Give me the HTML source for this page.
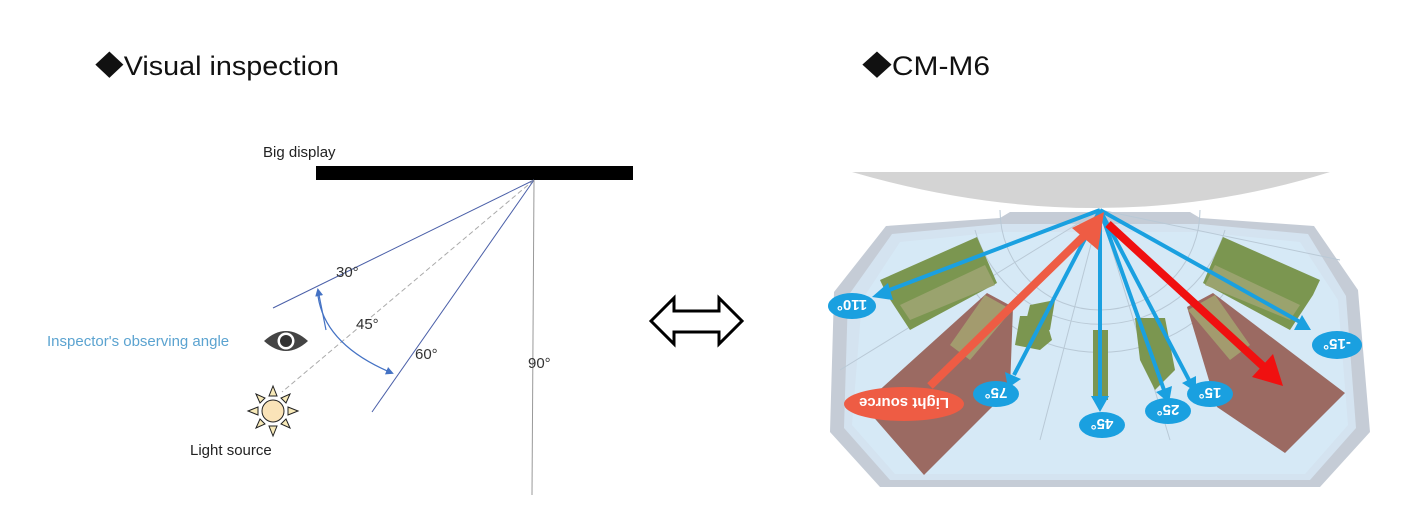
<!DOCTYPE html>
<html><head><meta charset="utf-8"><style>
html,body{margin:0;padding:0;background:#fff;}
svg{display:block;}
text{font-family:"Liberation Sans","Noto Sans CJK JP",sans-serif;}
</style></head><body>
<svg width="1416" height="522" viewBox="0 0 1416 522" xmlns="http://www.w3.org/2000/svg">
<defs>
<marker id="ab" markerWidth="8" markerHeight="8" refX="6" refY="4" orient="auto" markerUnits="userSpaceOnUse"><path d="M0,0 L8,4 L0,8 z" fill="#4472c4"/></marker>
</defs>
<!-- Titles -->
<text x="95" y="75" font-size="27" fill="#111" textLength="244" lengthAdjust="spacingAndGlyphs">◆Visual inspection</text>
<text x="862" y="75" font-size="27" fill="#111" textLength="128" lengthAdjust="spacingAndGlyphs">◆CM-M6</text>

<!-- Left diagram -->
<text x="263" y="157" font-size="15" fill="#222">Big display</text>
<rect x="316" y="166" width="317" height="14" fill="#000"/>
<line x1="534" y1="180" x2="273" y2="308" stroke="#4a5fa8" stroke-width="1"/>
<line x1="534" y1="180" x2="282" y2="392" stroke="#aaa" stroke-width="1" stroke-dasharray="5,3"/>
<line x1="534" y1="180" x2="372" y2="412" stroke="#4a5fa8" stroke-width="1"/>
<line x1="534" y1="180" x2="532" y2="495" stroke="#999" stroke-width="1"/>
<path d="M318,296 Q325,345 392,373" fill="none" stroke="#4472c4" stroke-width="1.2" marker-end="url(#ab)"/>
<path d="M326,330 Q322,310 318,290" fill="none" stroke="#4472c4" stroke-width="1.2" marker-end="url(#ab)"/>
<text x="336" y="277" font-size="15" fill="#333">30°</text>
<text x="356" y="329" font-size="15" fill="#333">45°</text>
<text x="415" y="359" font-size="15" fill="#333">60°</text>
<text x="528" y="368" font-size="15" fill="#333">90°</text>
<text x="47" y="346" font-size="15" fill="#5ba3d0">Inspector's observing angle</text>
<!-- eye -->
<path d="M264,341 Q286,321 308,341 Q286,361 264,341 z" fill="#444"/>
<circle cx="286" cy="341" r="8.5" fill="#fff"/>
<circle cx="286" cy="341" r="6" fill="#333"/>
<!-- sun -->
<g stroke="#222" stroke-width="1" fill="#f7e9b8">
<polygon points="273,386 269,396 277,396"/>
<polygon points="273,436 269,426 277,426"/>
<polygon points="248,411 258,407 258,415"/>
<polygon points="298,411 288,407 288,415"/>
<polygon points="256,394 260,403 265,398"/>
<polygon points="290,394 286,403 281,398"/>
<polygon points="256,428 260,419 265,424"/>
<polygon points="290,428 286,419 281,424"/>
<circle cx="273" cy="411" r="11" fill="#fae3b8"/>
</g>
<text x="190" y="455" font-size="15" fill="#222">Light source</text>

<!-- double arrow -->
<path d="M651,321 L674,298 L674,311 L719,311 L719,298 L742,321 L719,344 L719,332 L674,332 L674,344 z" fill="#fff" stroke="#000" stroke-width="3" stroke-linejoin="miter"/>

<!-- Right diagram -->
<path d="M852,172 L1330,172 Q1100,244 852,172 z" fill="#d4d4d4"/>
<path d="M886,226 L1000,218 L1010,212 L1190,212 L1200,218 L1314,226 L1358,290 L1370,432 L1320,487 L880,487 L830,432 L834,292 z" fill="#c5ccd6"/>
<path d="M892,234 L1000,224 L1200,224 L1308,234 L1346,296 L1356,428 L1310,480 L890,480 L844,428 L848,296 z" fill="#d4e3f0"/>
<path d="M900,242 L1000,232 L1200,232 L1300,242 L1338,300 L1348,425 L1305,474 L895,474 L852,425 L862,300 z" fill="#d6e9f6"/>
<g fill="none" stroke="#b9c9d6" stroke-width="1">
<path d="M1000,210 A100,100 0 0 0 1200,210"/>
<path d="M975,230 A130,130 0 0 0 1225,230"/>
<path d="M955,260 A160,160 0 0 0 1245,260"/>
<line x1="1100" y1="210" x2="840" y2="370"/>
<line x1="1100" y1="210" x2="1040" y2="440"/>
<line x1="1100" y1="210" x2="1170" y2="440"/>
<line x1="1100" y1="210" x2="1340" y2="260"/>
</g>
<!-- brown blocks -->
<polygon points="1187,307 1213,293 1345,393 1285,453 1217,407" fill="#9b6a62"/>
<polygon points="1013,307 987,293 863,405 924,475 1010,389" fill="#9b6a62"/>
<polygon points="1188,310 1215,295 1250,345 1230,360" fill="#a39b6e"/>
<polygon points="1012,310 985,295 950,345 970,360" fill="#a39b6e"/>
<!-- green blocks -->
<polygon points="1223,237 1320,280 1313,295 1290,330 1203,283" fill="#7b9650"/>
<polygon points="1215,265 1300,305 1290,320 1205,285" fill="#9aa36e"/>
<polygon points="977,237 880,280 887,295 910,330 997,283" fill="#7b9650"/>
<polygon points="985,265 900,305 910,320 995,285" fill="#9aa36e"/>
<polygon points="1020,316 1045,316 1052,340 1040,350 1015,345" fill="#7b9650"/>
<polygon points="1030,305 1055,300 1050,330 1025,325" fill="#7b9650"/>
<polygon points="1093,330 1108,330 1108,400 1093,400" fill="#7b9650"/>
<polygon points="1135,318 1165,318 1175,370 1155,390 1140,360" fill="#7b9650"/>
<!-- blue arrows -->
<g stroke="#1aa0e0" stroke-width="4" fill="#1aa0e0">
<line x1="1100" y1="210" x2="884" y2="292"/><polygon points="872,297 888,283 893,300" stroke="none"/>
<line x1="1100" y1="210" x2="1014" y2="375"/><polygon points="1008,388 1005,372 1021,379" stroke="none"/>
<line x1="1100" y1="210" x2="1100" y2="398"/><polygon points="1100,412 1091,396 1109,396" stroke="none"/>
<line x1="1100" y1="210" x2="1164" y2="390"/><polygon points="1169,403 1156,392 1172,386" stroke="none"/>
<line x1="1100" y1="210" x2="1189" y2="380"/><polygon points="1196,392 1182,383 1196,376" stroke="none"/>
<line x1="1100" y1="210" x2="1300" y2="322"/><polygon points="1311,330 1294,330 1302,315" stroke="none"/>
</g>
<!-- red arrow -->
<line x1="1108" y1="224" x2="1265" y2="368" stroke="#f01010" stroke-width="8"/>
<polygon points="1283,386 1252,377 1273,354" fill="#f01010"/>
<!-- orange arrow -->
<line x1="930" y1="386" x2="1088" y2="232" stroke="#ee5c44" stroke-width="8"/>
<polygon points="1104,212 1098,250 1072,228" fill="#ee5c44"/>
<!-- labels -->
<g fill="#1aa0e0">
<ellipse cx="852" cy="306" rx="24" ry="13"/>
<ellipse cx="996" cy="394" rx="23" ry="13"/>
<ellipse cx="1102" cy="425" rx="23" ry="13"/>
<ellipse cx="1168" cy="411" rx="23" ry="13"/>
<ellipse cx="1210" cy="394" rx="23" ry="13"/>
<ellipse cx="1337" cy="345" rx="25" ry="14"/>
</g>
<ellipse cx="904" cy="404" rx="60" ry="17" fill="#ee5c44"/>
<g fill="#fff" font-weight="bold" text-anchor="middle">
<text transform="translate(852,306) rotate(180)" y="6" font-size="15">110°</text>
<text transform="translate(996,394) rotate(180)" y="6" font-size="15">75°</text>
<text transform="translate(1102,425) rotate(180)" y="6" font-size="15">45°</text>
<text transform="translate(1168,411) rotate(180)" y="6" font-size="15">25°</text>
<text transform="translate(1210,394) rotate(180)" y="6" font-size="15">15°</text>
<text transform="translate(1337,345) rotate(180)" y="6" font-size="15">-15°</text>
<text transform="translate(904,404) rotate(180)" y="6" font-size="15">Light source</text>
</g>
</svg>
</body></html>
